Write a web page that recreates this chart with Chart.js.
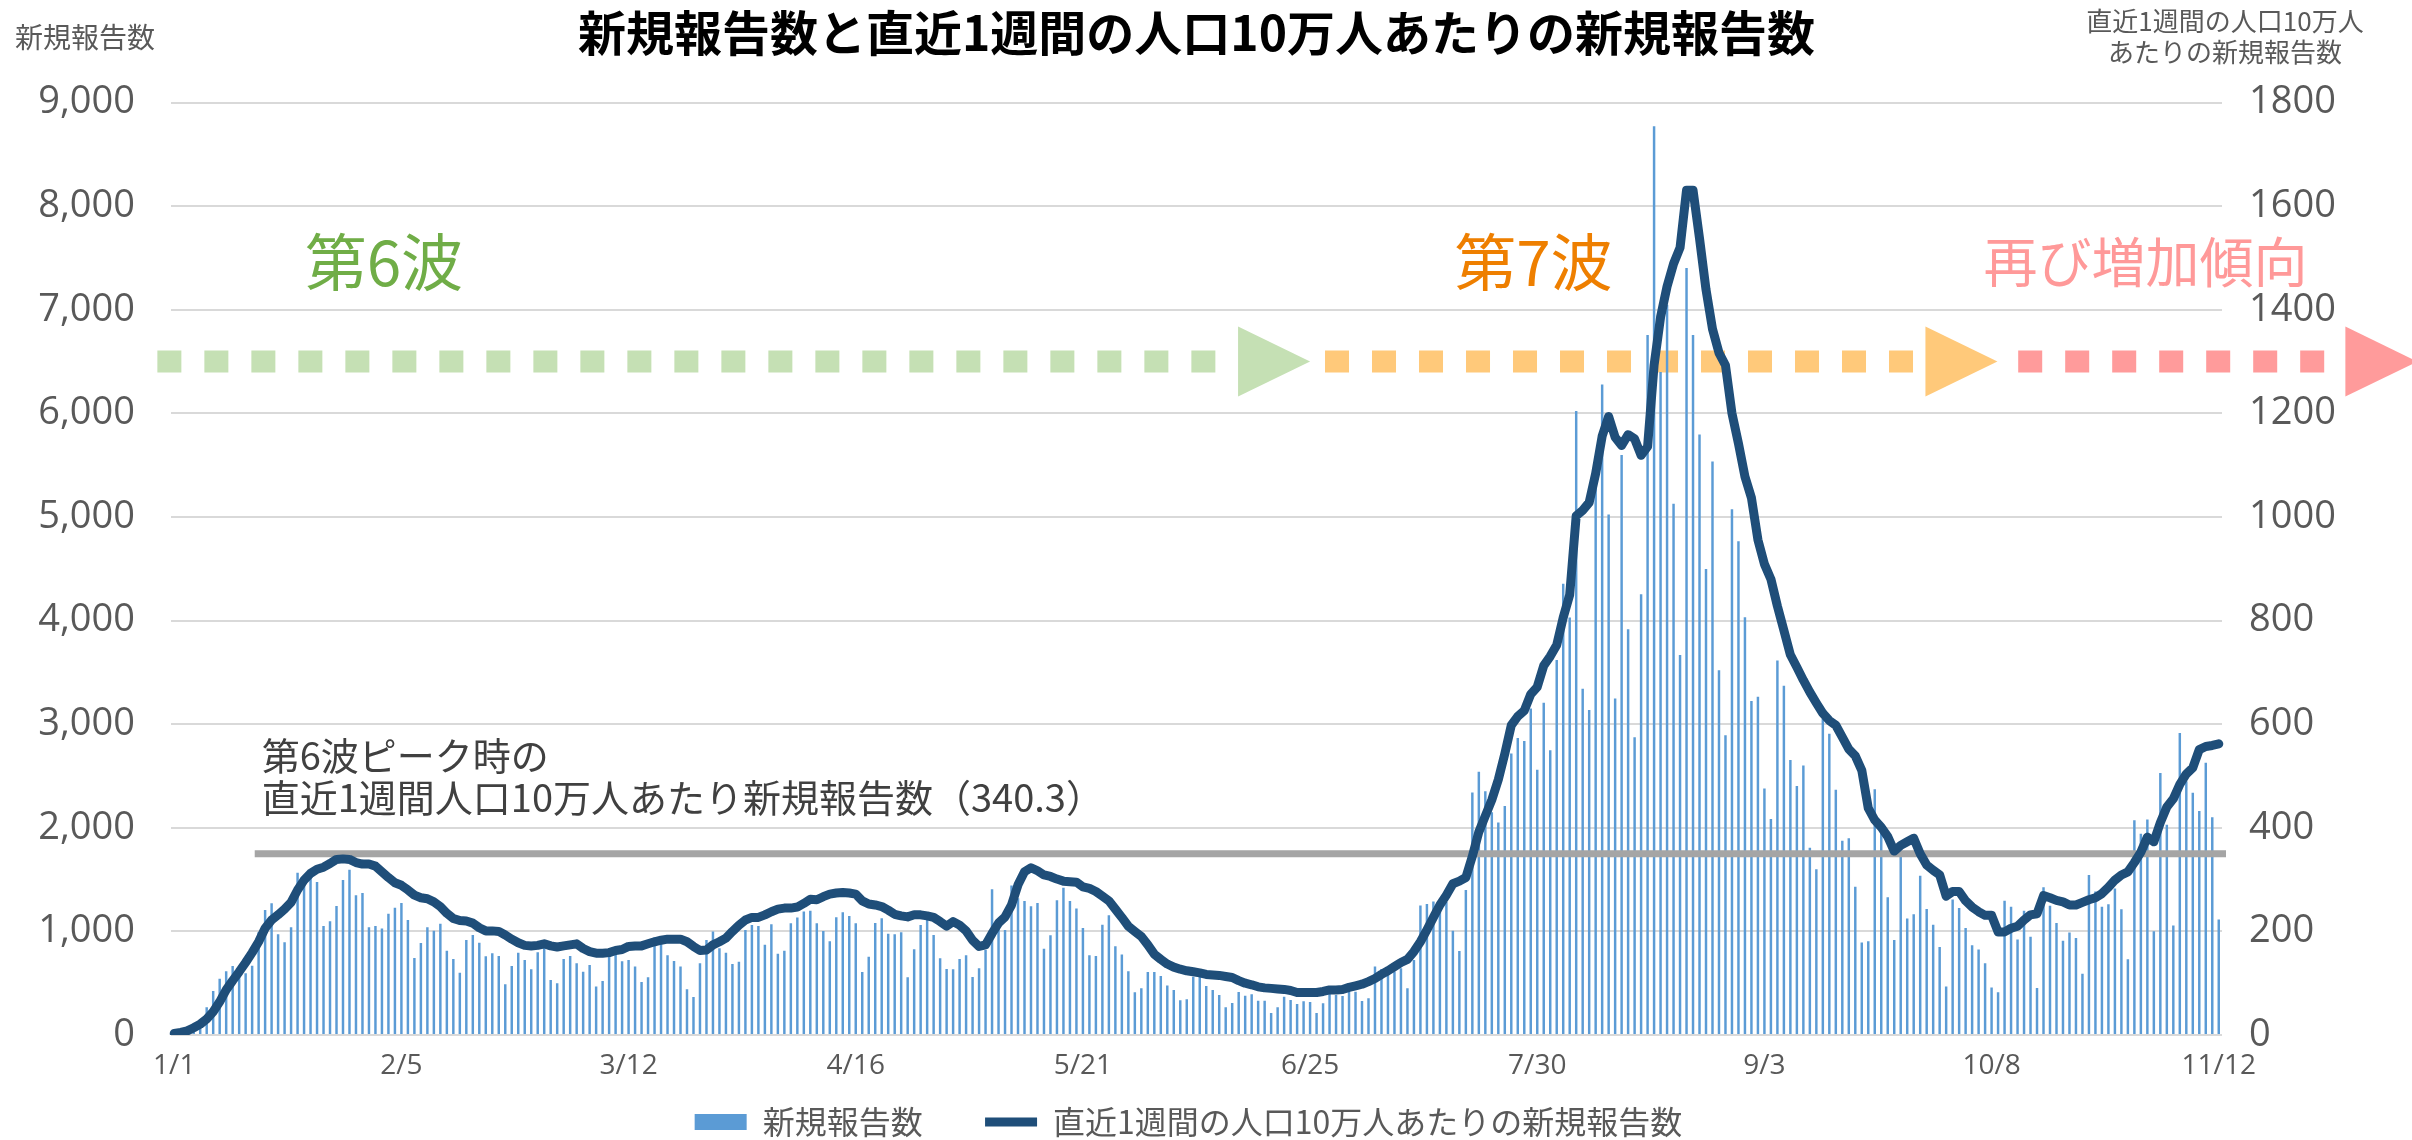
<!DOCTYPE html>
<html lang="ja">
<head>
<meta charset="utf-8">
<title>新規報告数と直近1週間の人口10万人あたりの新規報告数</title>
<script src="https://cdn.jsdelivr.net/npm/chart.js@4.4.1/dist/chart.umd.min.js"></script>
<style>
  html, body { margin: 0; padding: 0; background: #fff; }
  #wrap { width: 2412px; height: 1140px; }
</style>
</head>
<body>
<div id="wrap"><canvas id="chart"></canvas></div>
<script>
// 2022/1/1 から 11/12 までの日別データ
const firstDay = new Date(2022, 0, 1);
const tickDates = ['1/1', '2/5', '3/12', '4/16', '5/21', '6/25', '7/30', '9/3', '10/8', '11/12'];

// 新規報告数（日別）
const dailyCases = [
  20, 30, 60,
  106, 129, 267, 425, 544, 615, 666, 563, 595, 669, 991, 1207, 1271, 972, 895, 1039, 1567, 1448, 1529, 1477,
  1052, 1097, 1245, 1496, 1596, 1348, 1371, 1039, 1052, 1027, 1171, 1229, 1274, 1110, 743, 888, 1039, 1007,
  1075, 814, 734, 602, 917, 965, 891, 759, 788, 763, 489, 666, 795, 724, 634, 798, 853, 531, 499,
  734, 763, 692, 611, 676, 467, 521, 772, 788, 711, 724, 660, 512, 557, 943, 885, 769, 714, 660, 441,
  367, 692, 917, 998, 837, 795, 685, 708, 1014, 1062, 1052, 872, 1068, 785, 814, 1078, 1133, 1191, 1200, 1078,
  1004, 904, 1136, 1184, 1149, 1078, 608, 756, 1081, 1126, 978, 972, 991, 557, 827, 1062, 1120, 965, 740, 637,
  634, 734, 769, 560, 644, 821, 1406, 1023, 1014, 1442, 1319, 1294, 1242, 1274, 833, 962, 1300, 1422, 1294, 1220,
  1033, 769, 763, 1065, 1155, 856, 776, 615, 412, 451, 608, 608, 570, 479, 434, 335, 344, 563, 563, 473,
  434, 386, 267, 309, 415, 380, 393, 331, 331, 212, 267, 370, 338, 299, 325, 319, 212, 306, 473,
  386, 377, 418, 418, 328, 354, 660, 637, 596, 612, 644, 451, 724, 1249, 1265, 1288, 1191, 1284, 1006, 811,
  1400, 2341, 2541, 2353, 2151, 2050, 2211, 2716, 2867, 2839, 3151, 2560, 3206, 2748, 3620, 4356, 4030,
  6024, 3341, 3137, 5300, 6280, 5023, 3248, 5599, 3917, 2875, 4254, 6757, 8771, 6400, 7048, 5127, 3667,
  7403, 6757, 5797, 4499, 5535, 3521, 2893, 5075, 4767, 4033, 3224, 3265, 2380, 2084, 3614, 3370, 2654,
  2404, 2601, 1807, 1601, 3050, 2908, 2367, 1876, 1899, 1431, 894, 904, 2371, 1959, 1330, 917, 1761, 1124,
  1165, 1537, 1216, 1064, 849, 468, 1307, 1225, 1032, 867, 826, 693, 459, 413,
  1295, 1239, 922, 1200, 949, 453, 1426, 1247, 1080, 910, 989, 937, 592, 1545, 1386, 1239, 1263, 1414,
  1215, 731, 2073, 1942, 2081, 1001, 2530, 2030, 1057, 2915, 2450, 2339, 2161, 2629, 2101, 1116
];

// 直近1週間の人口10万人あたりの新規報告数
const weeklyPer100k = [
  3, 5, 8, 14, 21, 31, 45, 64, 87, 105, 122, 140, 159, 180, 206, 222, 232, 243, 256, 280,
  299, 312, 320, 324, 331, 339, 340, 339, 333, 330, 330, 326, 315, 304, 294, 289, 280, 270, 265, 263,
  257, 248, 235, 225, 221, 220, 216, 207, 201, 201, 200, 193, 185, 178, 173, 172, 173, 176, 172, 170,
  172, 174, 176, 167, 161, 158, 158, 159, 163, 165, 171, 172, 172, 176, 180, 183, 185, 185, 185, 180,
  171, 163, 164, 174, 180, 187, 200, 212, 222, 227, 227, 232, 238, 243, 245, 245, 247, 254, 262, 261,
  267, 272, 274, 275, 274, 272, 259, 253, 251, 248, 241, 233, 230, 228, 232, 232, 230, 227, 219, 210,
  219, 212, 201, 183, 171, 174, 196, 216, 228, 251, 290, 315, 323, 317, 309, 306, 301, 297, 296, 295,
  286, 283, 277, 268, 259, 243, 227, 210, 200, 190, 174, 156, 146, 137, 131, 127, 124, 122, 120, 117,
  116, 115, 113, 111, 105, 100, 97, 93, 91, 90, 89, 88, 86, 82, 82, 82, 82, 84, 87,
  87, 88, 92, 95, 98, 103, 109, 117, 124, 132, 140, 146, 161, 180, 203, 227, 251,
  270, 292, 297, 304, 345, 392, 423, 454, 493, 543, 598, 615, 626, 658, 672, 713, 731, 753, 806, 850,
  1002, 1013, 1028, 1084, 1156, 1194, 1154, 1138, 1159, 1151, 1119, 1136, 1293, 1386, 1445, 1489, 1520, 1631,
  1631, 1538, 1439, 1363, 1317, 1293, 1200, 1142, 1078, 1037, 956, 909, 880, 828, 781, 734, 710,
  685, 662, 641, 621, 607, 598, 575, 552, 539, 511, 438, 415, 401, 383, 355, 366, 373, 380, 350, 328,
  318, 309, 268, 277, 277, 259, 247, 238, 231, 231, 199,
  199, 206, 210, 222, 232, 234, 269, 265, 260, 257, 251, 251, 256, 261, 265, 273, 285, 299, 309, 315,
  333, 353, 382, 373, 410, 440, 456, 484, 504, 516, 551, 557, 559, 562
];

// 第6波ピーク（340.3）の基準線：右軸の値と開始日（日番号）
const peakRef = { value: 350, fromDay: 12.4 };
const peakText = ['第6波ピーク時の', '直近1週間人口10万人あたり新規報告数（340.3）'];

// 波の矢印（日番号で位置、左軸の値で高さ）
const waves = [
  { text: '第6波', size: 62, textColor: '#70AD47', arrowColor: '#C5E0B4', textDay: 32.3, from: -2.6, tip: 175.0 },
  { text: '第7波', size: 62, textColor: '#EE7F00', arrowColor: '#FFC97A', textDay: 209.4, from: 177.3, tip: 280.9 },
  { text: '再び増加傾向', size: 54, textColor: '#FF9999', arrowColor: '#FF9B9B', textDay: 303.7, from: 284.1, tip: 345.6 }
];
const waveTextLevel = 7460;
const waveArrowLevel = 6500;

const days = dailyCases.map((_, i) => {
  const d = new Date(firstDay.getFullYear(), firstDay.getMonth(), firstDay.getDate() + i);
  return (d.getMonth() + 1) + '/' + d.getDate();
});

const JP = '"Noto Sans CJK JP", sans-serif';
const NUM = '"Open Sans", sans-serif';
Chart.defaults.font.family = JP;

function drawArrow(ctx, x0, x1, y, color) {
  const triW = 72, triH = 70;
  const baseX = x1 - triW;
  ctx.save();
  ctx.strokeStyle = color;
  ctx.lineWidth = 22;
  ctx.setLineDash([24, 23]);
  ctx.beginPath();
  ctx.moveTo(x0, y);
  ctx.lineTo(baseX - 3, y);
  ctx.stroke();
  ctx.setLineDash([]);
  ctx.fillStyle = color;
  ctx.beginPath();
  ctx.moveTo(baseX, y - triH / 2);
  ctx.lineTo(x1, y);
  ctx.lineTo(baseX, y + triH / 2);
  ctx.closePath();
  ctx.fill();
  ctx.restore();
}

const overlay = {
  id: 'overlay',
  beforeDatasetsDraw(chart) {
    const { ctx, scales } = chart;
    const x = scales.x, y = scales.y;
    waves.forEach(w => {
      drawArrow(ctx, x.getPixelForValue(w.from), x.getPixelForValue(w.tip), y.getPixelForValue(waveArrowLevel), w.arrowColor);
      ctx.save();
      ctx.font = w.size + 'px ' + JP;
      ctx.fillStyle = w.textColor;
      ctx.textAlign = 'center';
      ctx.textBaseline = 'middle';
      ctx.fillText(w.text, x.getPixelForValue(w.textDay), y.getPixelForValue(waveTextLevel));
      ctx.restore();
    });
  },
  beforeDatasetDraw(chart, args) {
    if (args.meta.type !== 'line') return;
    const { ctx, chartArea, scales } = chart;
    const yy = scales.y1.getPixelForValue(peakRef.value);
    const x0 = scales.x.getPixelForValue(peakRef.fromDay);
    ctx.save();
    ctx.strokeStyle = '#A5A5A5';
    ctx.lineWidth = 7;
    ctx.beginPath();
    ctx.moveTo(x0, yy);
    ctx.lineTo(chartArea.right + 4, yy);
    ctx.stroke();
    ctx.font = '38px ' + JP;
    ctx.fillStyle = '#404040';
    ctx.textAlign = 'left';
    ctx.textBaseline = 'middle';
    ctx.fillText(peakText[0], x0 + 7, yy - 98);
    ctx.fillText(peakText[1], x0 + 7, yy - 56);
    ctx.restore();
  },
  afterDraw(chart) {
    const { ctx, width } = chart;
    ctx.save();
    ctx.fillStyle = '#595959';
    ctx.textAlign = 'center';
    ctx.textBaseline = 'middle';
    ctx.font = '28px ' + JP;
    ctx.fillText('新規報告数', 85, 37);
    ctx.font = '26px ' + JP;
    ctx.fillText('直近1週間の人口10万人', width - 187, 21);
    ctx.fillText('あたりの新規報告数', width - 187, 52);
    ctx.restore();
  }
};

new Chart(document.getElementById('chart'), {
  type: 'bar',
  data: {
    labels: days,
    datasets: [
      {
        type: 'line',
        label: '直近1週間の人口10万人あたりの新規報告数',
        data: weeklyPer100k,
        yAxisID: 'y1',
        borderColor: '#1F4E79',
        backgroundColor: '#1F4E79',
        borderWidth: 9,
        borderJoinStyle: 'round',
        borderCapStyle: 'round',
        pointRadius: 0,
        pointStyle: 'line',
        tension: 0
      },
      {
        type: 'bar',
        label: '新規報告数',
        data: dailyCases,
        yAxisID: 'y',
        backgroundColor: '#5B9BD5',
        barPercentage: 0.38,
        categoryPercentage: 1,
        pointStyle: 'rect'
      }
    ]
  },
  options: {
    responsive: true,
    maintainAspectRatio: false,
    animation: false,
    layout: { padding: { bottom: -8 } },
    plugins: {
      title: {
        display: true,
        fullSize: false,
        text: '新規報告数と直近1週間の人口10万人あたりの新規報告数',
        color: '#000',
        font: { size: 48, weight: 'bold' },
        padding: { top: 4, bottom: 41 }
      },
      legend: {
        position: 'bottom',
        fullSize: false,
        reverse: true,
        labels: {
          usePointStyle: true,
          pointStyleWidth: 52,
          boxHeight: 16,
          padding: 8,
          color: '#595959',
          font: { size: 32 },
          generateLabels(chart) {
            const items = Chart.defaults.plugins.legend.labels.generateLabels(chart);
            items.forEach(item => {
              item.text += item.datasetIndex === 1 ? '\u3000\u2002\u2009' : '\u2002';
            });
            return items;
          }
        }
      },
      tooltip: { enabled: false }
    },
    scales: {
      x: {
        offset: true,
        grid: { display: false, drawTicks: false },
        border: { display: false },
        ticks: {
          autoSkip: false,
          maxRotation: 0,
          minRotation: 0,
          padding: 14,
          color: '#595959',
          font: { family: NUM, size: 28 },
          callback: (value, index) => tickDates.includes(days[index]) ? days[index] : ''
        },
        afterFit(scale) { scale.height = 63; }
      },
      y: {
        position: 'left',
        min: 0,
        max: 9000,
        grid: { color: '#D9D9D9', lineWidth: 2, drawTicks: false },
        border: { display: false },
        ticks: {
          stepSize: 1000,
          padding: 36,
          color: '#595959',
          font: { family: NUM, size: 38 },
          callback: v => v.toLocaleString('en-US')
        },
        afterFit(scale) { scale.width = 171; }
      },
      y1: {
        position: 'right',
        min: 0,
        max: 1800,
        grid: { drawOnChartArea: false, drawTicks: false },
        border: { display: false },
        ticks: {
          stepSize: 200,
          padding: 27,
          color: '#595959',
          font: { family: NUM, size: 38 },
          callback: v => String(v)
        },
        afterFit(scale) { scale.width = 190; }
      }
    }
  },
  plugins: [overlay]
});
</script>
</body>
</html>
